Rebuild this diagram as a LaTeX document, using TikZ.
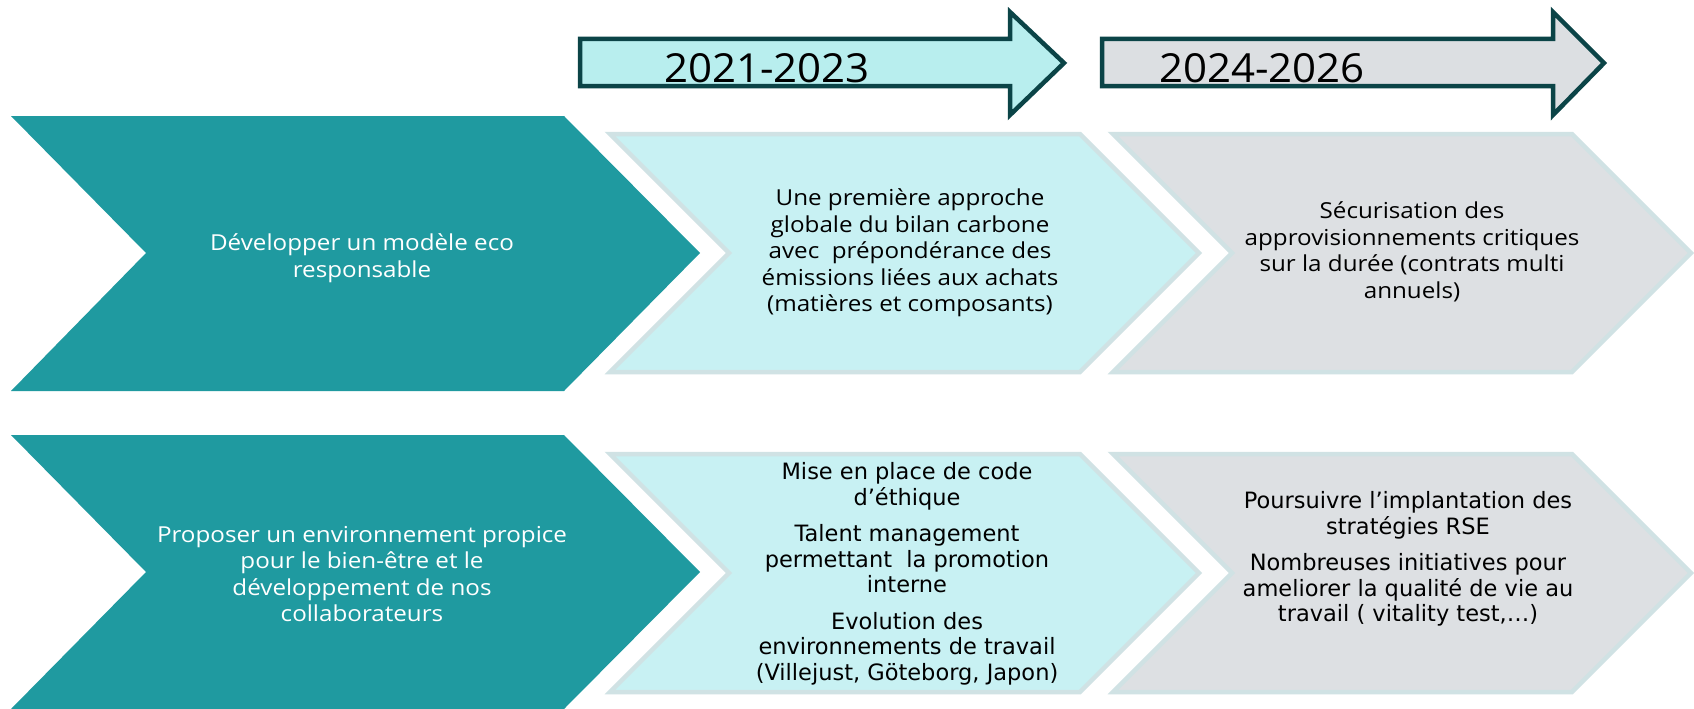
\documentclass[tikz,border=0pt]{standalone}
\usepackage{fontspec}
\setmainfont{Open Sans}
\newfontfamily\topfont{Open Sans}[FakeStretch=1.1]
\newfontfamily\botfont{DejaVu Sans}
\newfontfamily\yearfont{Open Sans}[FakeStretch=1.05]
\definecolor{tealC}{HTML}{1F9AA0}
\definecolor{cyanC}{HTML}{C8F1F3}
\definecolor{greyC}{HTML}{DDE0E3}
\definecolor{edgeC}{HTML}{D0E2E4}
\definecolor{arrowA}{HTML}{B8EEEE}
\definecolor{arrowB}{HTML}{DCDFE2}
\definecolor{darkC}{HTML}{0B4447}
\tikzset{
  tealchev/.style={fill=tealC, draw=none},
  cyanchev/.style={fill=cyanC, draw=edgeC, line width=4.5pt, line join=miter},
  greychev/.style={fill=greyC, draw=edgeC, line width=4.5pt, line join=miter},
  yeararrow/.style={draw=darkC, line width=4.5pt, line join=miter},
  whitetxt/.style={text=white, align=center, font=\topfont\fontsize{22}{26.5}\selectfont, inner sep=0pt},
  blacktxt/.style={text=black, align=center, font=\topfont\fontsize{22}{26.5}\selectfont, inner sep=0pt},
  blacktxtb/.style={text=black, align=center, font=\botfont\fontsize{22.5}{25.5}\selectfont, inner sep=0pt},
  yeartxt/.style={text=black, font=\yearfont\fontsize{40}{44}\selectfont, inner sep=0pt},
}
\begin{document}
\begin{tikzpicture}[x=1pt,y=-1pt]
\useasboundingbox (0,0) rectangle (1694,709);
\fill[white] (0,0) rectangle (1694,709);
% year arrows
\draw[yeararrow, fill=arrowA] (580,39)--(1010,39)--(1010,12)--(1064,63)--(1010,115)--(1010,86)--(580,86)--cycle;
\draw[yeararrow, fill=arrowB] (1102,39)--(1553,39)--(1553,12)--(1604,63)--(1553,115)--(1553,86)--(1102,86)--cycle;
\node[yeartxt] (y1) at (767,68) {2021-2023};
\node[yeartxt] (y2) at (1262,68) {2024-2026};
% row 1
\fill[tealchev] (11,116)--(564,116)--(700,253)--(564,391)--(11,391)--(146,253)--cycle;
\draw[cyanchev] (610,134)--(1080,134)--(1199,253)--(1080,372)--(610,372)--(729,253)--cycle;
\draw[greychev] (1113,134)--(1572,134)--(1691,253)--(1572,372)--(1113,372)--(1232,253)--cycle;
\node[whitetxt] (t1) at (362,258) {Développer un modèle eco\\responsable};
\node[blacktxt] (c1) at (910,253) {Une première approche\\globale du bilan carbone\\avec\ \ prépondérance des\\émissions liées aux achats\\(matières et composants)};
\node[blacktxt] (g1) at (1412,252) {Sécurisation des\\approvisionnements critiques\\sur la durée (contrats multi\\annuels)};
% row 2
\fill[tealchev] (11,435)--(564,435)--(700,572)--(564,709)--(11,709)--(146,572)--cycle;
\draw[cyanchev] (610,454)--(1080,454)--(1199,573)--(1080,692)--(610,692)--(729,573)--cycle;
\draw[greychev] (1113,454)--(1572,454)--(1691,573)--(1572,692)--(1113,692)--(1232,573)--cycle;
\node[whitetxt] (t2) at (362,574) {Proposer un environnement propice\\pour le bien-être et le\\développement de nos\\collaborateurs};
\node[blacktxtb] (c2) at (907,574) {Mise en place de code\\d’éthique\\[11pt]Talent management\\permettant\ \ la promotion\\interne\\[11pt]Evolution des\\environnements de travail\\(Villejust, Göteborg, Japon)};
\node[blacktxtb] (g2) at (1408,559) {Poursuivre l’implantation des\\stratégies RSE\\[11pt]Nombreuses initiatives pour\\ameliorer la qualité de vie au\\travail ( vitality test,…)};
\end{tikzpicture}
\end{document}
